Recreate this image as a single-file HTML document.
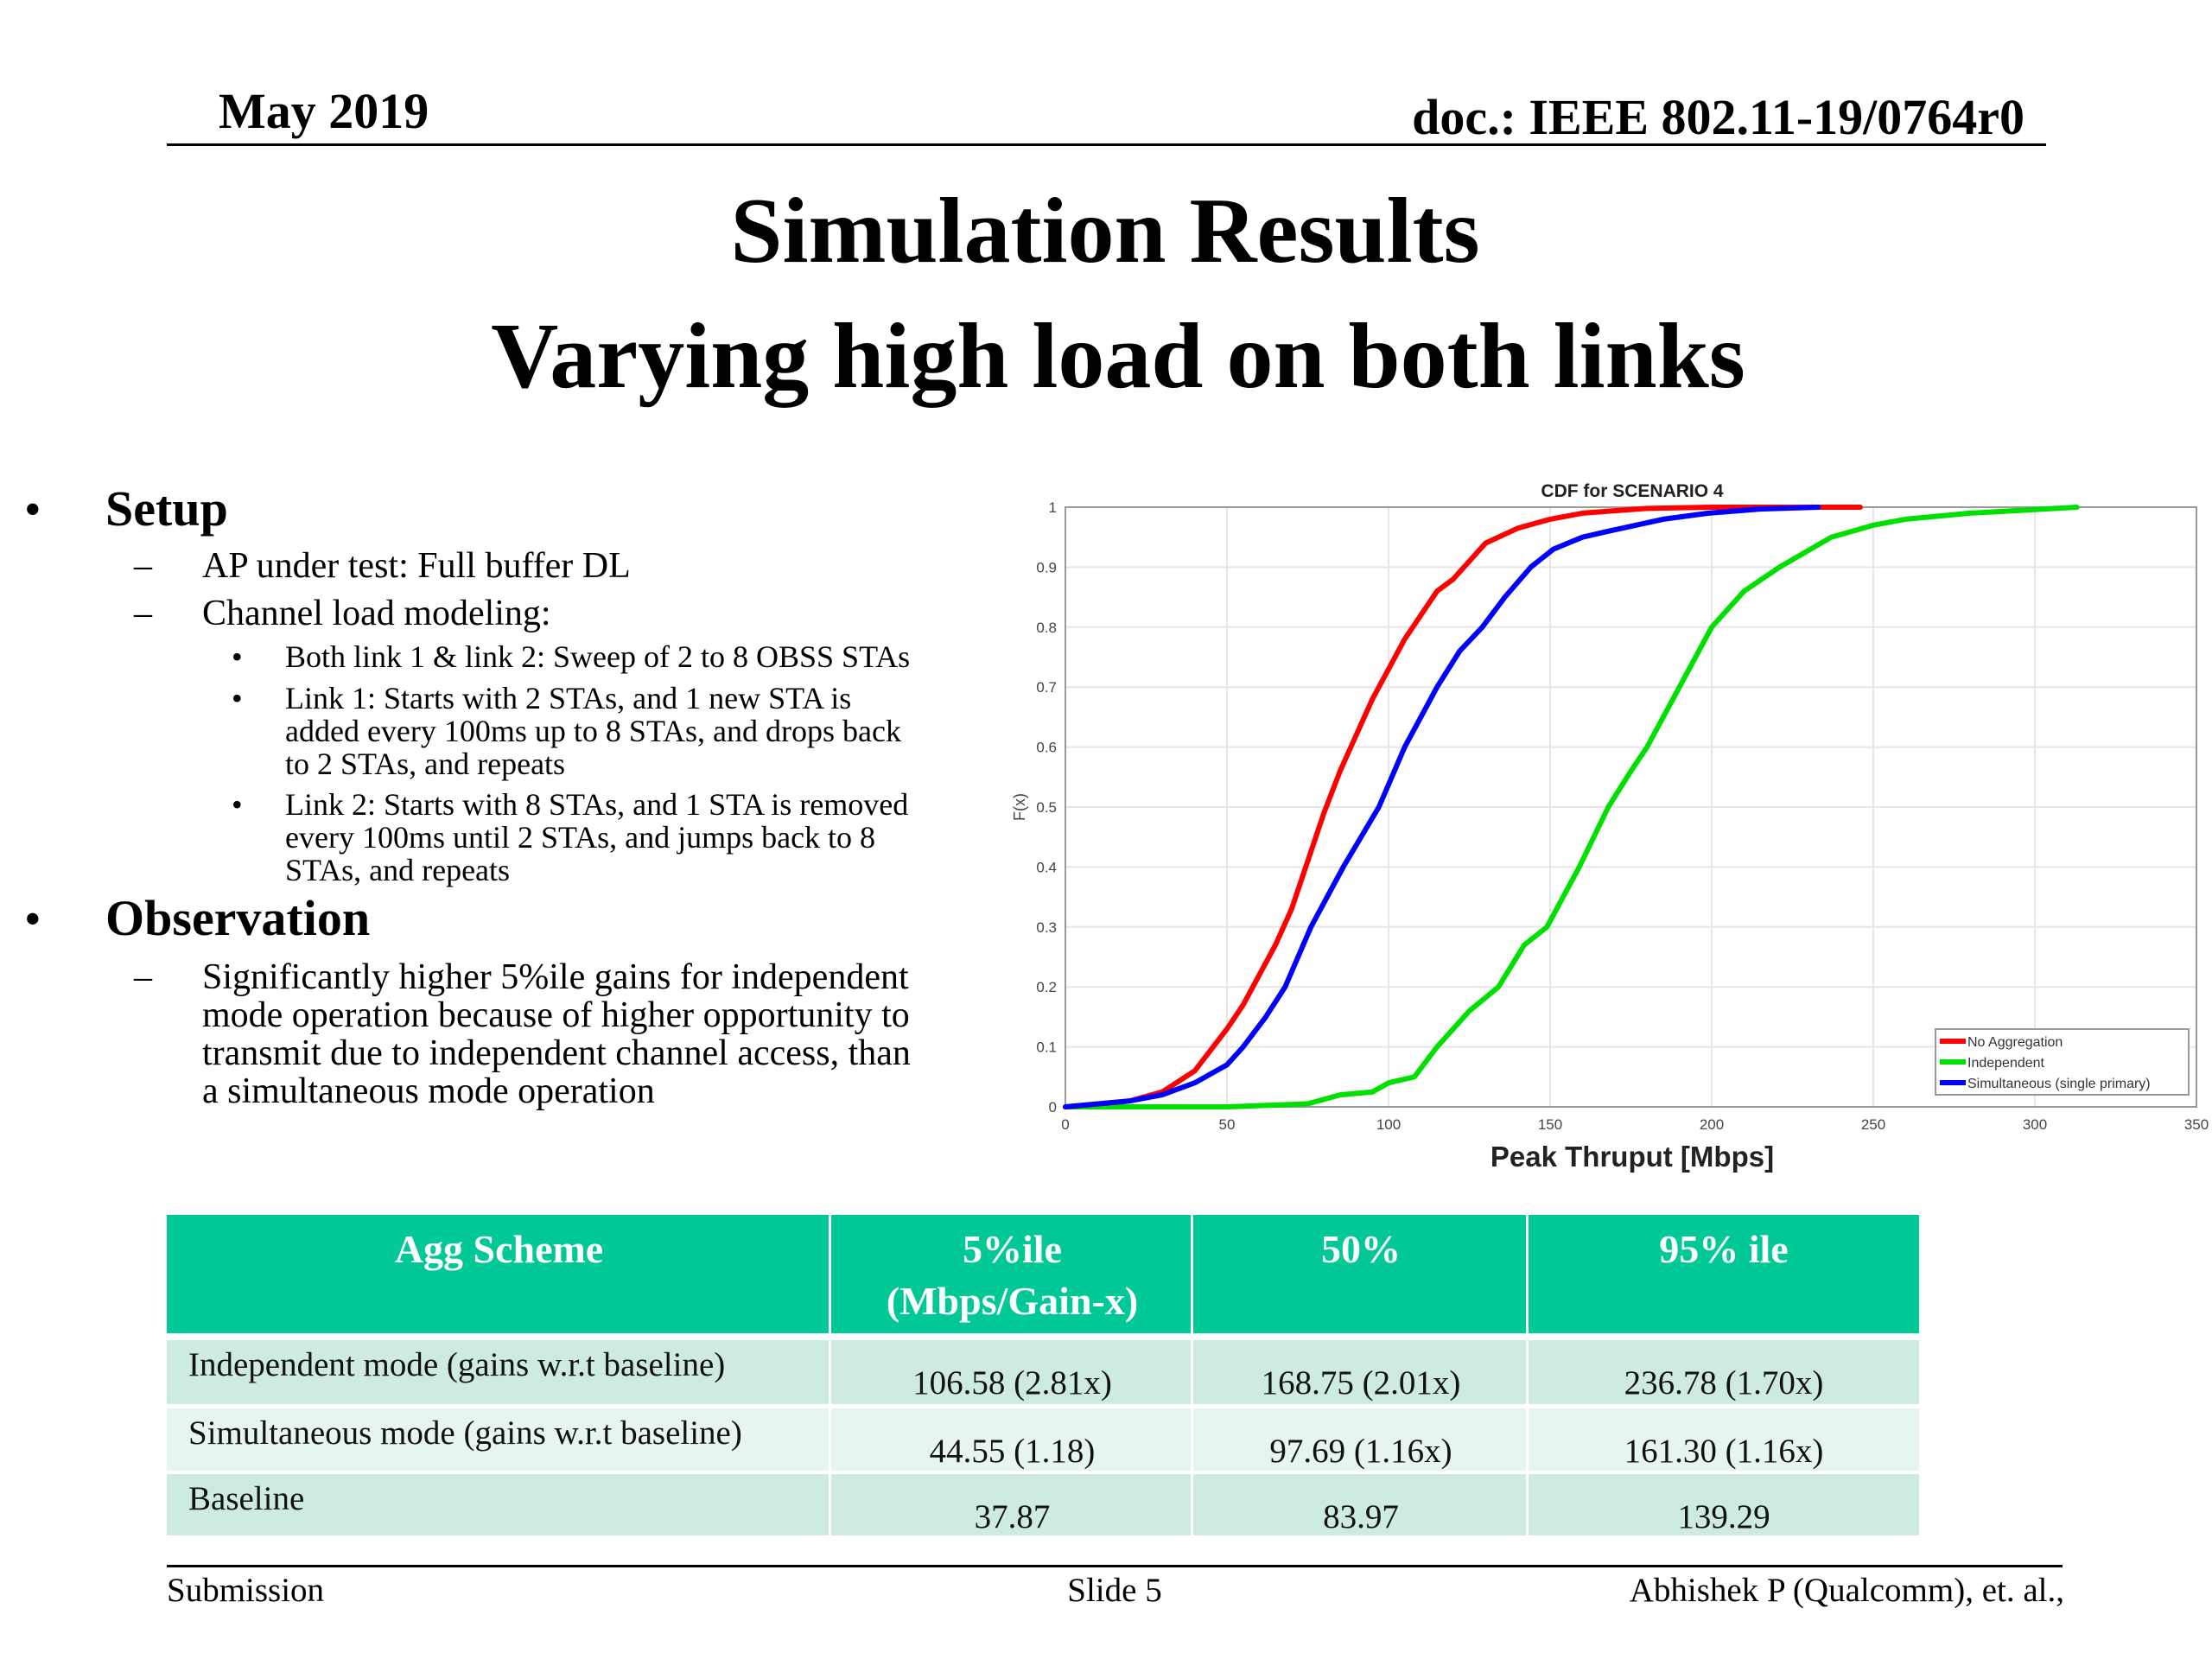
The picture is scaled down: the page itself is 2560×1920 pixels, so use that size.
<!DOCTYPE html>
<html><head><meta charset="utf-8"><style>
html,body{margin:0;padding:0;background:#fff;}
svg{display:block;}
.serif{font-family:"Liberation Serif",serif;}
.sans{font-family:"Liberation Sans",sans-serif;}
</style></head><body>
<svg id="page" width="2560" height="1920" viewBox="0 0 2560 1920" xmlns="http://www.w3.org/2000/svg">
<g class="serif">
<text x="253" y="148" font-size="58" font-weight="bold">May 2019</text>
<text x="2343" y="155" font-size="58" font-weight="bold" text-anchor="end">doc.: IEEE 802.11-19/0764r0</text>
<rect x="193" y="166" width="2175" height="3" fill="#000"/>
</g>
<g class="serif" font-weight="bold" text-anchor="middle">
<text x="1279" y="303" font-size="108">Simulation Results</text>
<text x="1294" y="448" font-size="108">Varying high load on both links</text>
</g>
<g class="serif">
<text x="28" y="608" font-size="56">•</text>
<text x="122" y="608" font-size="58" font-weight="bold">Setup</text>
<text x="155" y="668" font-size="42">–</text>
<text x="234" y="668" font-size="42">AP under test: Full buffer DL</text>
<text x="155" y="723" font-size="42">–</text>
<text x="234" y="723" font-size="42">Channel load modeling:</text>
<g font-size="36">
<text x="268" y="772">•</text>
<text x="330" y="772">Both link 1 &amp; link 2: Sweep of 2 to 8 OBSS STAs</text>
<text x="268" y="820">•</text>
<text x="330" y="820">Link 1: Starts with 2 STAs, and 1 new STA is</text>
<text x="330" y="858">added every 100ms up to 8 STAs, and drops back</text>
<text x="330" y="896">to 2 STAs, and repeats</text>
<text x="268" y="943">•</text>
<text x="330" y="943">Link 2: Starts with 8 STAs, and 1 STA is removed</text>
<text x="330" y="981">every 100ms until 2 STAs, and jumps back to 8</text>
<text x="330" y="1019">STAs, and repeats</text>
</g>
<text x="28" y="1082" font-size="56">•</text>
<text x="122" y="1082" font-size="58" font-weight="bold">Observation</text>
<text x="155" y="1144" font-size="42">–</text>
<g font-size="42">
<text x="234" y="1144">Significantly higher 5%ile gains for independent</text>
<text x="234" y="1188">mode operation because of higher opportunity to</text>
<text x="234" y="1232">transmit due to independent channel access, than</text>
<text x="234" y="1276">a simultaneous mode operation</text>
</g>
</g>
<g id="chart" class="sans"></g>
<g id="table" class="serif"></g>
<g class="serif" font-size="39">
<rect x="193" y="1811" width="2194" height="3" fill="#000"/>
<text x="193" y="1853">Submission</text>
<text x="1290" y="1853" text-anchor="middle">Slide 5</text>
<text x="2389" y="1853" text-anchor="end">Abhishek P (Qualcomm), et. al.,</text>
</g>
</svg>
<script>
const xTicks=[0,50,100,150,200,250,300,350];
const yTicks=[0,0.1,0.2,0.3,0.4,0.5,0.6,0.7,0.8,0.9,1];
const yTickLabels=["0","0.1","0.2","0.3","0.4","0.5","0.6","0.7","0.8","0.9","1"];
const seriesNames=["No Aggregation","Independent","Simultaneous (single primary)"];
const redX=[0,20,30,40,50,55,60,65,70,75,80,85,90,95,100,105,110,115,120,125,130,140,150,160,180,200,246];
const redY=[0,0.01,0.025,0.06,0.13,0.17,0.22,0.27,0.33,0.41,0.49,0.56,0.62,0.68,0.73,0.78,0.82,0.86,0.88,0.91,0.94,0.965,0.98,0.99,0.998,1,1];
const greenX=[0,50,75,85,95,100,108,115,125,134,142,149,159,168,175,180,190,200,210,221,237,250,260,280,313];
const greenY=[0,0,0.005,0.02,0.025,0.04,0.05,0.1,0.16,0.2,0.27,0.3,0.4,0.5,0.56,0.6,0.7,0.8,0.86,0.9,0.95,0.97,0.98,0.99,1];
const blueX=[0,20,30,40,50,55,62,68,76,86,97,105,115,122,129,136,144,151,160,168,185,199,215,233];
const blueY=[0,0.01,0.02,0.04,0.07,0.1,0.15,0.2,0.3,0.4,0.5,0.6,0.7,0.76,0.8,0.85,0.9,0.93,0.95,0.96,0.98,0.99,0.997,1];
const colors=["#ff0000","#00e000","#0000ff"];

const NS="http://www.w3.org/2000/svg";
const L=1233,R=2542,T=587,B=1281;
const sx=v=>L+(v-0)/(350-0)*(R-L);
const sy=v=>B-(v-0)/(1-0)*(B-T);
function mk(parent,tag,attrs,txt){const e=document.createElementNS(NS,tag);for(const k in attrs)e.setAttribute(k,attrs[k]);if(txt!==undefined)e.textContent=txt;parent.appendChild(e);return e;}
const chart=document.getElementById('chart');
let e;
e=mk(chart,'rect',{x:L,y:T,width:R-L,height:B-T,fill:'#fff',stroke:'#999','stroke-width':2});


xTicks.forEach(v=>{
  e=mk(chart,'line',{x1:sx(v),x2:sx(v),y1:T,y2:B,stroke:'#e6e6e6','stroke-width':2});
  
  
  e=mk(chart,'text',{x:sx(v),y:B+26,'font-size':17,fill:'#444','text-anchor':'middle'},String(v));
  
  
});
yTicks.forEach((v,i)=>{
  e=mk(chart,'line',{x1:L,x2:R,y1:sy(v),y2:sy(v),stroke:'#e6e6e6','stroke-width':2});
  
  
  e=mk(chart,'text',{x:L-10,y:sy(v)+6,'font-size':17,fill:'#444','text-anchor':'end'},yTickLabels[i]);
  
  
});
e=mk(chart,'rect',{x:L,y:T,width:R-L,height:B-T,fill:'none',stroke:'#999','stroke-width':2});


const all=[[redX,redY],[greenX,greenY],[blueX,blueY]];
const drawOrder=[1,0,2];
const names=['no-aggregation-line','independent-line','simultaneous-line'];
drawOrder.forEach(i=>{
  const [xs,ys]=all[i];
  const d=xs.map((x,j)=>(j?'L':'M')+sx(x).toFixed(1)+','+sy(ys[j]).toFixed(1)).join(' ');
  e=mk(chart,'path',{d:d,fill:'none',stroke:colors[i],'stroke-width':6,'stroke-linejoin':'round','stroke-linecap':'round'});
  
  
});
e=mk(chart,'text',{x:1889,y:575,'font-size':21,'font-weight':'bold','text-anchor':'middle',fill:'#222'},'CDF for SCENARIO 4');


e=mk(chart,'text',{x:1889,y:1350,'font-size':33,'font-weight':'bold','text-anchor':'middle',fill:'#222'},'Peak Thruput [Mbps]');


e=mk(chart,'text',{x:0,y:0,'font-size':18,'text-anchor':'middle',fill:'#444',transform:'translate(1186,934) rotate(-90)'},'F(x)');


const lg=mk(chart,'g',{});


mk(lg,'rect',{x:2240,y:1191,width:293,height:76,fill:'#fff',stroke:'#999','stroke-width':2});
seriesNames.forEach((n,i)=>{
  const y=1205+i*24;
  e=mk(lg,'line',{x1:2245,x2:2275,y1:y,y2:y,stroke:colors[i],'stroke-width':6});
  
  
  e=mk(lg,'text',{x:2277,y:y+6,'font-size':16,fill:'#333'},n);
  
  
});

// table
const tbl=document.getElementById('table');
const colX=[193,962,1381,1769,2221];
const rowsY=[[1406,1543],[1551,1625],[1630,1702],[1706,1777]];
const fills=['#00c896','#cdebdf','#e6f5ef','#cdebdf'];
const cells=[
 [['Agg Scheme'],['5%ile','(Mbps/Gain-x)'],['50%'],['95% ile']],
 [['Independent mode (gains w.r.t baseline)'],['106.58 (2.81x)'],['168.75 (2.01x)'],['236.78 (1.70x)']],
 [['Simultaneous mode (gains w.r.t baseline)'],['44.55 (1.18)'],['97.69 (1.16x)'],['161.30 (1.16x)']],
 [['Baseline'],['37.87'],['83.97'],['139.29']]
];
rowsY.forEach((ry,r)=>{
  for(let c=0;c<4;c++){
    e=mk(tbl,'rect',{x:colX[c],y:ry[0],width:colX[c+1]-colX[c]-(c<3?3:0),height:ry[1]-ry[0],fill:fills[r]});
    
    
    const lines=cells[r][c];
    lines.forEach((t,k)=>{
      let attrs;
      if(r===0){attrs={x:(colX[c]+colX[c+1])/2,y:ry[0]+55+k*60,'font-size':46,'font-weight':'bold',fill:'#fff','text-anchor':'middle'};}
      else if(c===0){attrs={x:218,y:ry[0]+41,'font-size':39,fill:'#111'};}
      else{attrs={x:(colX[c]+colX[c+1])/2,y:ry[0]+62,'font-size':39,fill:'#111','text-anchor':'middle'};}
      e=mk(tbl,'text',attrs,t);
      
      
    });
  }
});
</script>
</body></html>
